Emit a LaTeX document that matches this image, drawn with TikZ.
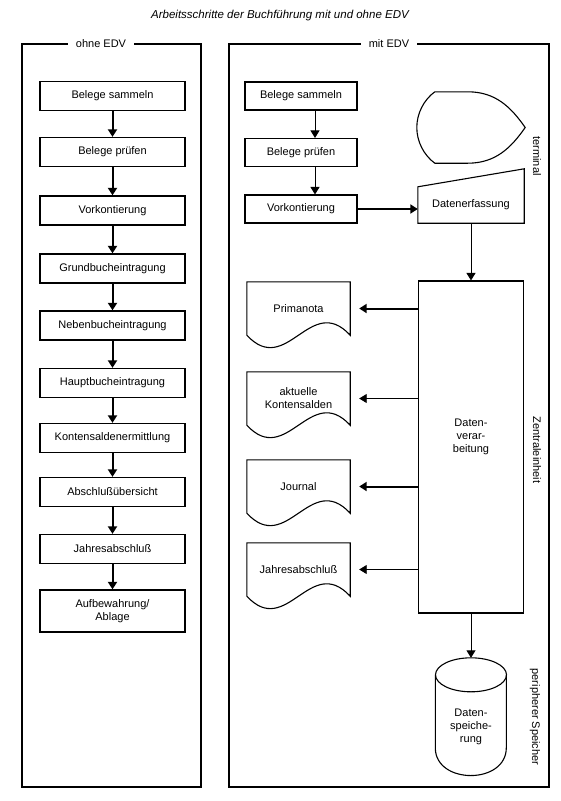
\documentclass[tikz,border=0pt]{standalone}
\usepackage{fontspec}
\setmainfont{Liberation Sans}
\usepackage{tikz}
\usetikzlibrary{calc,arrows.meta}

\begin{document}
\begin{tikzpicture}[x=1pt,y=-1pt,
  font=\fontsize{11}{13}\selectfont,
  panel/.style={line width=1.6pt},
  lbox/.style={draw,line width=1.3pt,minimum width=145pt,minimum height=29pt,inner sep=1pt,align=center},
  rbox/.style={draw,line width=1.1pt,minimum width=112pt,minimum height=28pt,inner sep=1pt},
  shp/.style={line width=1.1pt},
  doc/.style={minimum width=103pt,minimum height=53pt,inner sep=1pt,align=center},
  arr/.style={-{Triangle[length=7.5pt,width=9pt]},line width=2pt},
  tarr/.style={-{Triangle[length=7.5pt,width=9pt]},line width=0.9pt},
  lane/.style={rotate=-90}]
\useasboundingbox (0,0) rectangle (560,801);
\node (title) at (280,16) {\fontsize{11.5}{13}\selectfont\itshape Arbeitsschritte der Buchführung mit und ohne EDV};
\draw [panel] (22,44) rectangle (201,787);
\node [fill=white,inner xsep=8pt,inner ysep=2pt] (ohne) at (101,44) {ohne EDV};
\draw [panel] (229,44) rectangle (549,787);
\node [fill=white,inner xsep=8pt,inner ysep=2pt] (mit) at (389,44) {mit EDV};
\node [lbox] (sam) at (112.5,96) {Belege sammeln};
\node [lbox] (pruef) at (112.5,152) {Belege prüfen};
\node [lbox] (vork) at (112.5,210.5) {Vorkontierung};
\node [lbox] (grund) at (112.5,268.5) {Grundbucheintragung};
\node [lbox] (neben) at (112.5,325.5) {Nebenbucheintragung};
\node [lbox] (haupt) at (112.5,383) {Hauptbucheintragung};
\node [lbox] (salden) at (112.5,438) {Kontensaldenermittlung};
\node [lbox] (abuebs) at (112.5,492) {Abschlußübersicht};
\node [lbox] (jabs) at (112.5,549) {Jahresabschluß};
\node [lbox,minimum height=42pt] (ablage) at (112.5,611) {Aufbewahrung/\\Ablage};
\draw [arr] (sam) -- (pruef);
\draw [arr] (pruef) -- (vork);
\draw [arr] (vork) -- (grund);
\draw [arr] (grund) -- (neben);
\draw [arr] (neben) -- (haupt);
\draw [arr] (haupt) -- (salden);
\draw [arr] (salden) -- (abuebs);
\draw [arr] (abuebs) -- (jabs);
\draw [arr] (jabs) -- (ablage);
\node [rbox] (sam2) at (301,96) {Belege sammeln};
\node [rbox] (pruef2) at (301,152.5) {Belege prüfen};
\node [rbox] (vork2) at (301,209) {Vorkontierung};
\draw [tarr] ($(sam2.south)+(14,0)$) -- ($(pruef2.north)+(14,0)$);
\draw [tarr] ($(pruef2.south)+(14,0)$) -- ($(vork2.north)+(14,0)$);
\node [minimum width=108pt,minimum height=71pt] (term) at (471,127.5) {};
\draw [shp] ($(term.north west)+(18,0)$) -- ($(term.north west)+(51,0)$)
  .. controls +(28,0) and +(-14,-20) .. (term.east)
  .. controls +(-14,20) and +(28,0) .. ($(term.south west)+(51,0)$)
  -- ($(term.south west)+(18,0)$)
  .. controls +(-11,-8) and +(0,14) .. (term.west)
  .. controls +(0,-14) and +(-11,8) .. cycle;
\node [minimum width=106pt,minimum height=36pt] (erf) at (471,205) {Datenerfassung};
\draw [shp] (erf.south west) -- (erf.north west) -- ($(erf.north east)+(0,-18)$) -- (erf.south east) -- cycle;
\draw [arr] (vork2.east) -- (vork2.east -| erf.west);
\node [draw,shp,minimum width=105pt,minimum height=332pt] (dv) at (471,447) {};
\node [align=center] (dvtxt) at ($(dv.center)+(0,-10)$) {Daten-\\verar-\\beitung};
\draw [tarr] (erf.south) -- (erf.south |- dv.north);
\node [doc] (prima) at (298.5,308.5) {Primanota};
\node [doc] (aksal) at (298.5,398.5) {aktuelle\\Kontensalden};
\node [doc] (journ) at (298.5,486.5) {Journal};
\node [doc] (jabs2) at (298.5,569.5) {Jahresabschluß};
\foreach \d in {prima,aksal,journ,jabs2}
  \draw [shp] (\d.south east) -- (\d.north east) -- (\d.north west) -- (\d.south west)
    .. controls +(40,43) and +(-40,-43) .. cycle;
\draw [arr,shorten >=9pt] (dv.west |- prima.east) -- (prima.east);
\draw [tarr,shorten >=9pt] (dv.west |- aksal.east) -- (aksal.east);
\draw [arr,shorten >=9pt] (dv.west |- journ.east) -- (journ.east);
\draw [tarr,shorten >=9pt] (dv.west |- jabs2.east) -- (jabs2.east);
\node [minimum width=71pt,minimum height=138pt,inner sep=0pt,align=center] (store) at (471,727) {Daten-\\speiche-\\rung};
\draw [shp] ($(store.north)+(0,17)$) ellipse [x radius=35.5pt,y radius=17pt];
\draw [shp] ($(store.north west)+(0,17)$) -- ++(0,73) .. controls +(0,37) and +(0,37) .. ++(71,0) -- ++(0,-73);
\draw [tarr] (dv.south) -- (store.north);
\node [lane] (lterm) at (537,156) {terminal};
\node [lane] (lzent) at (537,450) {Zentraleinheit};
\node [lane] (lperi) at (535,717) {peripherer Speicher};
\end{tikzpicture}
\end{document}
